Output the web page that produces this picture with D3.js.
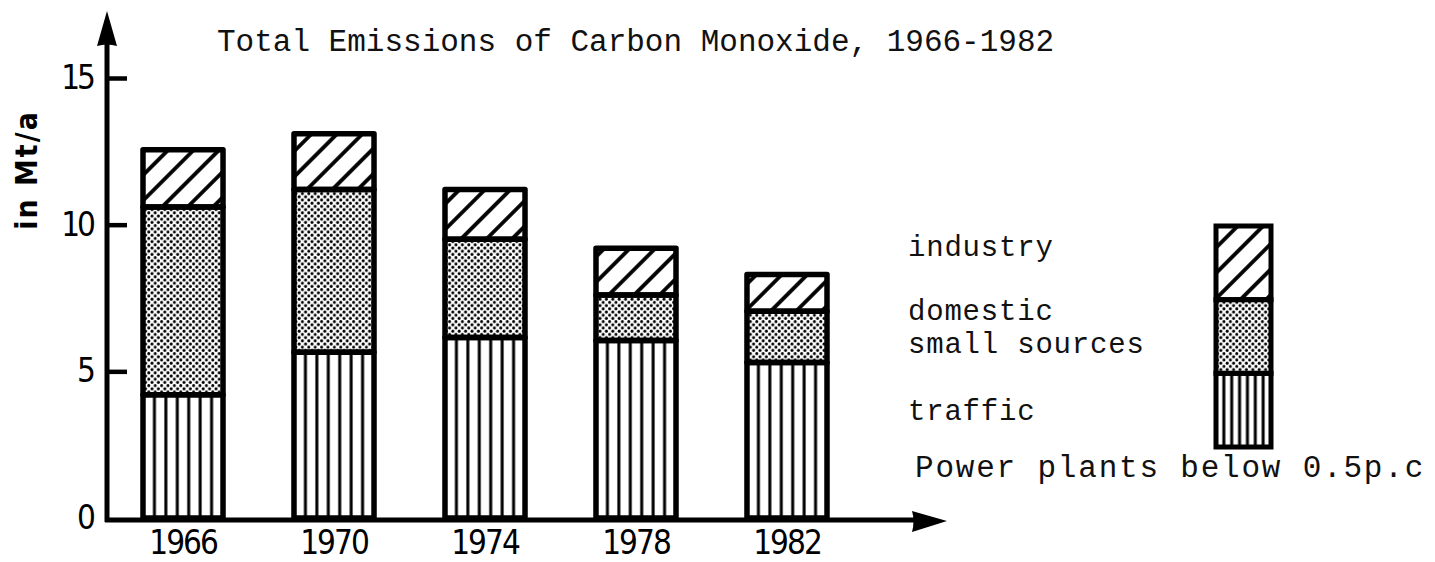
<!DOCTYPE html>
<html>
<head>
<meta charset="utf-8">
<script src="https://cdn.jsdelivr.net/npm/d3@7"></script>
<style>
    body { margin: 0; background: #fff; }
</style>
</head>
<body>
<svg id="chart"></svg>
<script>
// values, Mt/a
const years = ["1966", "1970", "1974", "1978", "1982"];
const traffic = [4.2, 5.65, 6.15, 6.05, 5.3];
const domestic = [6.4, 5.55, 3.35, 1.55, 1.75];
const industry = [1.95, 1.9, 1.7, 1.6, 1.25];
const yTicks = [0, 5, 10, 15];

const keys = ["traffic", "domestic", "industry"];
const legendKeys = ["industry", "domestic", "traffic"];
const fills = { traffic: "stripes", domestic: "dots", industry: "hatch" };

const width = 1435, height = 562;
const digitFont = "'Liberation Sans Narrow', 'DejaVu Sans Condensed', sans-serif";
const typeFont = "'Liberation Mono', 'DejaVu Sans Mono', monospace";

const rows = years.map((year, i) => ({
    year: year,
    traffic: traffic[i],
    domestic: domestic[i],
    industry: industry[i]
}));

const svg = d3.select("#chart")
    .attr("width", width)
    .attr("height", height);

svg.append("rect")
    .attr("width", width)
    .attr("height", height)
    .attr("fill", "#fff");

const x = d3.scaleBand()
    .domain(years)
    .range([106, 864])
    .paddingInner(0.47)
    .paddingOuter(0.245);

const y = d3.scaleLinear()
    .domain([0, 15])
    .range([518, 78]);

const bw = x.bandwidth();
const legendW = 55;

// fill patterns
const defs = svg.append("defs");

const hatch = defs.append("pattern")
    .attr("id", "hatch")
    .attr("patternUnits", "userSpaceOnUse")
    .attr("width", 18)
    .attr("height", 18)
    .attr("patternTransform", "rotate(45)");
hatch.append("line")
    .attr("x1", 9).attr("y1", -2)
    .attr("x2", 9).attr("y2", 20)
    .attr("stroke", "#000")
    .attr("stroke-width", 3.8);

const dots = defs.append("pattern")
    .attr("id", "dots")
    .attr("patternUnits", "userSpaceOnUse")
    .attr("width", 6.4)
    .attr("height", 6.4);
dots.selectAll("circle")
    .data([[1.6, 1.6], [4.8, 4.8]])
    .join("circle")
    .attr("cx", d => d[0])
    .attr("cy", d => d[1])
    .attr("r", 1.5)
    .attr("fill", "#000");

// vertical stripes, 7 columns per box
function stripePattern(id, boxWidth) {
    const tw = boxWidth / 7;
    const p = defs.append("pattern")
        .attr("id", id)
        .attr("patternUnits", "objectBoundingBox")
        .attr("patternContentUnits", "userSpaceOnUse")
        .attr("width", 1 / 7)
        .attr("height", 1);
    p.selectAll("rect")
        .data([0, tw - 1.5])
        .join("rect")
        .attr("x", d => d)
        .attr("y", 0)
        .attr("width", 1.5)
        .attr("height", 1000)
        .attr("fill", "#000");
}
stripePattern("stripes", bw);
stripePattern("stripes-legend", legendW);

// bars
const series = d3.stack().keys(keys)(rows);

svg.append("g")
    .selectAll("g")
    .data(series)
    .join("g")
    .attr("fill", d => `url(#${fills[d.key]})`)
    .selectAll("rect")
    .data(d => d)
    .join("rect")
    .attr("x", d => x(d.data.year))
    .attr("y", d => y(d[1]))
    .attr("width", bw)
    .attr("height", d => y(d[0]) - y(d[1]))
    .attr("stroke", "#000")
    .attr("stroke-width", 5.5)
    .attr("stroke-linejoin", "round");

// y axis
const yAxis = svg.append("g")
    .attr("transform", "translate(107,0)")
    .call(d3.axisLeft(y).tickValues(yTicks).tickSizeInner(-20).tickSizeOuter(0).tickPadding(14));
yAxis.select(".domain").remove();
yAxis.selectAll(".tick line")
    .attr("stroke", "#000")
    .attr("stroke-width", 4.5)
    .filter(d => d === 0).remove();
yAxis.selectAll(".tick text")
    .attr("font-family", digitFont)
    .attr("font-size", 33)
    .attr("letter-spacing", -3)
    .attr("fill", "#000");

// x axis
const xAxis = svg.append("g")
    .attr("transform", "translate(0,520)")
    .call(d3.axisBottom(x).tickSize(0).tickPadding(11));
xAxis.select(".domain").remove();
xAxis.selectAll(".tick text")
    .attr("font-family", digitFont)
    .attr("font-size", 33)
    .attr("letter-spacing", -2)
    .attr("fill", "#000");

// axis lines with arrows
svg.append("path")
    .attr("d", "M107,522 V40")
    .attr("stroke", "#000")
    .attr("stroke-width", 5)
    .attr("fill", "none");
svg.append("path")
    .attr("d", "M107,11 L117,46 Q107,43 97,46 Z")
    .attr("fill", "#000");

svg.append("path")
    .attr("d", "M105,520 H918")
    .attr("stroke", "#000")
    .attr("stroke-width", 5)
    .attr("fill", "none");
svg.append("path")
    .attr("d", "M947,521 L912,511 Q915,521 912,532 Z")
    .attr("fill", "#000");

svg.append("text")
    .attr("transform", "translate(37,170) rotate(-90)")
    .attr("text-anchor", "middle")
    .attr("font-family", digitFont)
    .attr("font-weight", "bold")
    .attr("font-size", 30)
    .attr("letter-spacing", 2)
    .text("in Mt/a");

// title
svg.append("text")
    .attr("x", 217)
    .attr("y", 51)
    .attr("font-family", typeFont)
    .attr("font-size", 31)
    .attr("fill", "#111")
    .text("Total Emissions of Carbon Monoxide, 1966-1982");

// legend box
const ly = d3.scaleBand()
    .domain(legendKeys)
    .range([226, 447]);

svg.append("g")
    .selectAll("rect")
    .data(legendKeys)
    .join("rect")
    .attr("x", 1216)
    .attr("y", d => ly(d))
    .attr("width", legendW)
    .attr("height", ly.bandwidth())
    .attr("fill", d => d === "traffic" ? "url(#stripes-legend)" : `url(#${fills[d]})`)
    .attr("stroke", "#000")
    .attr("stroke-width", 5);

const legendText = [
    { text: "industry", y: 256 },
    { text: "domestic", y: 320 },
    { text: "small sources", y: 353 },
    { text: "traffic", y: 420 }
];

svg.append("g")
    .selectAll("text")
    .data(legendText)
    .join("text")
    .attr("x", 908)
    .attr("y", d => d.y)
    .attr("font-family", typeFont)
    .attr("font-size", 29)
    .attr("letter-spacing", 0.8)
    .attr("fill", "#111")
    .text(d => d.text);

svg.append("text")
    .attr("x", 915)
    .attr("y", 477)
    .attr("font-family", typeFont)
    .attr("font-size", 31)
    .attr("letter-spacing", 1.8)
    .attr("fill", "#111")
    .text("Power plants below 0.5p.c");
</script>
</body>
</html>
